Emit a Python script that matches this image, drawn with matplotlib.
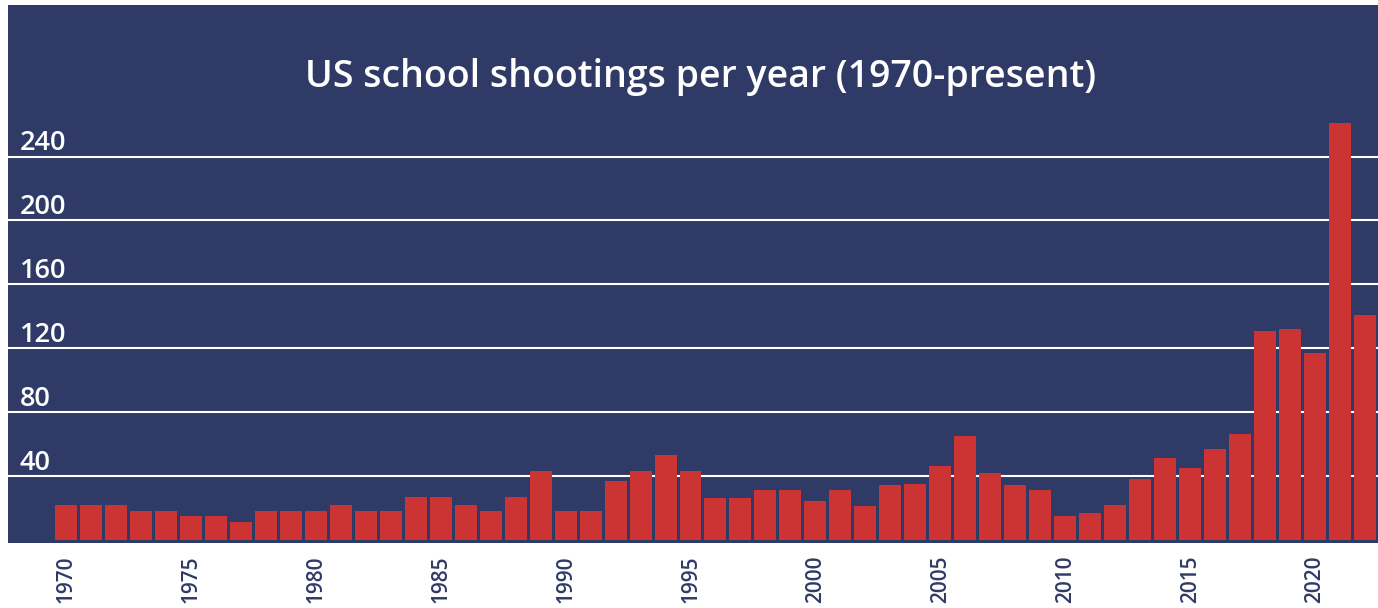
import matplotlib
matplotlib.use('Agg')
import matplotlib.pyplot as plt


NAVY = '#303a66'
RED = '#cc3333'

years = list(range(1970, 2023))
shootings = [
    22, 22, 22, 18, 18, 15, 15, 11, 18, 18,
    18, 22, 18, 18, 27, 27, 22, 18, 27, 43,
    18, 18, 37, 43, 53, 43, 26, 26, 31, 31,
    24, 31, 21, 34, 35, 46, 65, 42, 34, 31,
    15, 17, 22, 38, 51, 45, 57, 66, 131, 132,
    117, 261, 141,
]
grid_values = [40, 80, 120, 160, 200, 240]
year_ticks = list(range(1970, 2023, 5))
title = 'US school shootings per year (1970-present)'


def main():
    plt.rcParams['font.family'] = ['Open Sans', 'DejaVu Sans']

    fig = plt.figure(figsize=(13.78, 6.08), dpi=100)
    ax = fig.add_axes([8 / 1378, 65 / 608, 1370 / 1378, 538 / 608])
    ax.set_facecolor(NAVY)

    for v in grid_values:
        ax.axhline(v, color='white', linewidth=1.5, zorder=1)
        ax.annotate(
            str(v), xy=(12 / 1370, v), xycoords=('axes fraction', 'data'),
            xytext=(0, 4.5), textcoords='offset points',
            ha='left', va='baseline', color='white', fontsize=19.5,
            fontweight='semibold',
        )

    ax.bar(years, shootings, width=0.88, color=RED, zorder=2)

    ax.set_xlim(1967.68, 2022.52)
    ax.set_ylim(-2.07, 334.9)
    ax.set_yticks([])
    ax.set_xticks(year_ticks)
    ax.set_xticklabels([str(y) for y in year_ticks], rotation=90,
                       color=NAVY, fontsize=15, fontweight='semibold')
    ax.tick_params(axis='x', length=0, pad=9)
    for spine in ax.spines.values():
        spine.set_visible(False)

    fig.text(701 / 1378, (608 - 87) / 608, title, ha='center',
             va='baseline', color='white', fontsize=27,
             fontweight='semibold')

    fig.savefig('out.png', dpi=100, facecolor='white')


if __name__ == '__main__':
    main()
